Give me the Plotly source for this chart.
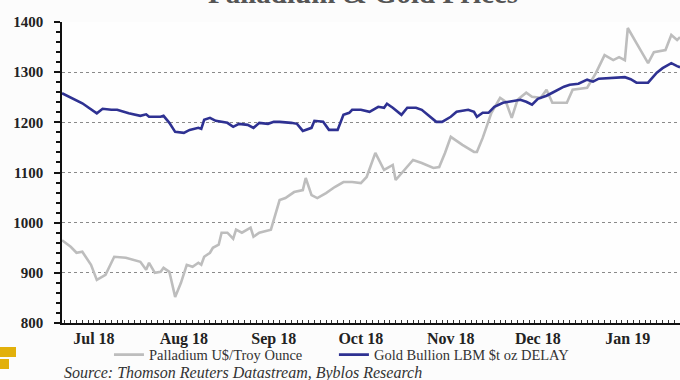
import plotly.graph_objects as go

# ---------------- data ----------------
gold_dates = [
    "2018-07-04", "2018-07-08", "2018-07-11", "2018-07-16", "2018-07-18", "2018-07-21",
    "2018-07-23", "2018-07-27", "2018-07-31", "2018-08-02", "2018-08-03", "2018-08-07",
    "2018-08-08", "2018-08-10", "2018-08-12", "2018-08-15", "2018-08-17", "2018-08-20",
    "2018-08-21", "2018-08-22", "2018-08-24", "2018-08-26", "2018-08-30", "2018-09-01",
    "2018-09-03", "2018-09-06", "2018-09-08", "2018-09-10", "2018-09-13", "2018-09-15",
    "2018-09-17", "2018-09-21", "2018-09-23", "2018-09-25", "2018-09-28", "2018-09-29",
    "2018-10-02", "2018-10-04", "2018-10-07", "2018-10-09", "2018-10-11", "2018-10-12",
    "2018-10-15", "2018-10-18", "2018-10-21", "2018-10-23", "2018-10-24", "2018-10-26",
    "2018-10-29", "2018-10-31", "2018-11-03", "2018-11-05", "2018-11-08", "2018-11-10",
    "2018-11-12", "2018-11-15", "2018-11-17", "2018-11-21", "2018-11-23", "2018-11-24",
    "2018-11-26", "2018-11-28", "2018-11-30", "2018-12-03", "2018-12-05", "2018-12-09",
    "2018-12-11", "2018-12-13", "2018-12-15", "2018-12-18", "2018-12-20", "2018-12-24",
    "2018-12-26", "2018-12-29", "2019-01-01", "2019-01-03", "2019-01-05", "2019-01-08",
    "2019-01-11", "2019-01-14", "2019-01-16", "2019-01-18", "2019-01-22", "2019-01-23",
    "2019-01-25", "2019-01-27", "2019-01-30", "2019-02-01", "2019-02-02",
]
gold_values = [
    1258, 1246, 1238, 1218, 1227, 1225,
    1225, 1218, 1213, 1216, 1211, 1211,
    1213, 1199, 1181, 1179, 1185, 1189,
    1187, 1205, 1209, 1203, 1199, 1191,
    1197, 1195, 1189, 1199, 1197, 1201,
    1201, 1199, 1197, 1183, 1189, 1203,
    1201, 1185, 1185, 1215, 1219, 1225,
    1225, 1221, 1231, 1229, 1237, 1229,
    1215, 1229, 1229, 1225, 1211, 1201,
    1201, 1211, 1221, 1225, 1221, 1211,
    1219, 1219, 1231, 1239, 1241, 1245,
    1241, 1235, 1247, 1253, 1259, 1271,
    1275, 1277, 1285, 1281, 1287, 1288,
    1288, 1290, 1286, 1279, 1279, 1285,
    1299, 1308, 1318, 1312, 1310,
]

pall_dates = [
    "2018-07-04", "2018-07-07", "2018-07-09", "2018-07-11", "2018-07-14", "2018-07-16",
    "2018-07-19", "2018-07-22", "2018-07-26", "2018-07-31", "2018-08-02", "2018-08-03",
    "2018-08-05", "2018-08-07", "2018-08-08", "2018-08-10", "2018-08-12", "2018-08-14",
    "2018-08-16", "2018-08-18", "2018-08-20", "2018-08-21", "2018-08-22", "2018-08-24",
    "2018-08-25", "2018-08-27", "2018-08-28", "2018-08-30", "2018-09-01", "2018-09-02",
    "2018-09-04", "2018-09-07", "2018-09-08", "2018-09-10", "2018-09-14", "2018-09-17",
    "2018-09-19", "2018-09-22", "2018-09-25", "2018-09-26", "2018-09-28", "2018-09-30",
    "2018-10-03", "2018-10-06", "2018-10-09", "2018-10-12", "2018-10-15", "2018-10-17",
    "2018-10-20", "2018-10-23", "2018-10-26", "2018-10-27", "2018-10-30", "2018-11-02",
    "2018-11-05", "2018-11-09", "2018-11-11", "2018-11-13", "2018-11-15", "2018-11-19",
    "2018-11-23", "2018-11-24", "2018-11-26", "2018-11-27", "2018-11-29", "2018-12-02",
    "2018-12-04", "2018-12-06", "2018-12-08", "2018-12-11", "2018-12-13", "2018-12-16",
    "2018-12-18", "2018-12-20", "2018-12-25", "2018-12-27", "2019-01-01", "2019-01-04",
    "2019-01-07", "2019-01-10", "2019-01-12", "2019-01-14", "2019-01-15", "2019-01-18",
    "2019-01-20", "2019-01-22", "2019-01-24", "2019-01-28", "2019-01-30", "2019-02-01",
    "2019-02-02",
]
pall_values = [
    965, 952, 940, 942, 916, 886,
    896, 932, 930, 922, 906, 920,
    900, 902, 910, 902, 852, 880,
    916, 912, 920, 916, 932, 940,
    950, 956, 980, 980, 968, 986,
    980, 990, 972, 980, 986, 1045,
    1049, 1061, 1065, 1089, 1055, 1049,
    1059, 1071, 1081, 1081, 1079, 1091,
    1139, 1105, 1115, 1085, 1105, 1125,
    1119, 1109, 1111, 1139, 1171, 1155,
    1141, 1141, 1169, 1185, 1219, 1249,
    1241, 1209, 1245, 1259, 1251, 1249,
    1265, 1239, 1239, 1265, 1269, 1298,
    1334, 1324, 1330, 1324, 1388, 1358,
    1338, 1318, 1340, 1344, 1374, 1364,
    1370,
]

tick_dates = ["2018-07-15", "2018-08-15", "2018-09-15", "2018-10-15",
              "2018-11-15", "2018-12-15", "2019-01-15"]
tick_labels = ["Jul 18", "Aug 18", "Sep 18", "Oct 18", "Nov 18", "Dec 18", "Jan 19"]
y_ticks = [800, 900, 1000, 1100, 1200, 1300, 1400]

series_names = ["Palladium U$/Troy Ounce", "Gold Bullion LBM $t oz DELAY"]

SERIF = "Liberation Serif"

fig = go.Figure()
fig.add_trace(go.Scatter(
    x=pall_dates, y=pall_values, mode="lines", name=series_names[0],
    line=dict(color="#bdbdbd", width=2.6), legend="legend",
))
fig.add_trace(go.Scatter(
    x=gold_dates, y=gold_values, mode="lines", name=series_names[1],
    line=dict(color="#2e3192", width=2.6), legend="legend2",
))

legend_common = dict(
    orientation="h", xanchor="left", y=-0.052, yanchor="top",
    font=dict(family=SERIF, size=14.5, color="#333333"),
    bgcolor="rgba(0,0,0,0)", itemwidth=30,
)

fig.update_layout(
    width=680, height=380,
    margin=dict(l=62, r=0, t=22, b=57),
    paper_bgcolor="#fcfcfc", plot_bgcolor="#fefefe",
    font=dict(family=SERIF, color="#222222"),
    showlegend=True,
    legend=dict(x=0.076, **legend_common),
    legend2=dict(x=0.440, **legend_common),
)

fig.update_xaxes(
    type="date",
    range=["2018-07-04", "2019-02-02"],
    tickmode="array", tickvals=tick_dates,
    ticktext=["<b>%s</b>" % t for t in tick_labels],
    ticks="", ticklen=0,
    tickfont=dict(family=SERIF, size=16, color="#222222"),
    showgrid=False, zeroline=False,
    showline=True, linecolor="#111111", linewidth=1.5,
    minor=dict(ticks="inside", dtick=86400000 * 2, ticklen=3,
               tickcolor="#333333", tickwidth=1, showgrid=False),
)
fig.update_yaxes(
    range=[800, 1400],
    tickmode="array", tickvals=y_ticks,
    ticktext=["<b>%d</b>" % v for v in y_ticks],
    ticks="outside", ticklen=6, tickcolor="#111111", tickwidth=1.5,
    ticklabelstandoff=8,
    tickfont=dict(family=SERIF, size=15, color="#222222"),
    showgrid=True, gridcolor="#8a8a8a", gridwidth=1, griddash="dot",
    zeroline=False,
    showline=True, linecolor="#111111", linewidth=1.5,
    minor=dict(ticks="outside", dtick=20, ticklen=4,
               tickcolor="#111111", tickwidth=1.5, showgrid=False),
)

# cut-off title at the very top
fig.add_annotation(
    text="<b>Palladium &amp; Gold Prices</b>", xref="paper", yref="paper",
    x=0.487, y=1.098, xanchor="center", yanchor="middle", showarrow=False,
    font=dict(family=SERIF, size=29, color="#555555"),
)
# source note
fig.add_annotation(
    text="<i>Source: Thomson Reuters Datastream, Byblos Research</i>",
    xref="paper", yref="paper", x=0.0, y=-0.165, xanchor="left", yanchor="middle",
    showarrow=False, font=dict(family=SERIF, size=16, color="#333333"),
)
# yellow logo blocks bottom-left
fig.add_shape(type="rect", xref="paper", yref="paper",
              x0=-62 / 618, x1=-46 / 618, y0=-34 / 301, y1=-24 / 301,
              fillcolor="#e2b00a", line=dict(width=0))
fig.add_shape(type="rect", xref="paper", yref="paper",
              x0=-62 / 618, x1=-53 / 618, y0=-46 / 301, y1=-36 / 301,
              fillcolor="#e2b00a", line=dict(width=0))

fig.write_html("out.html")
